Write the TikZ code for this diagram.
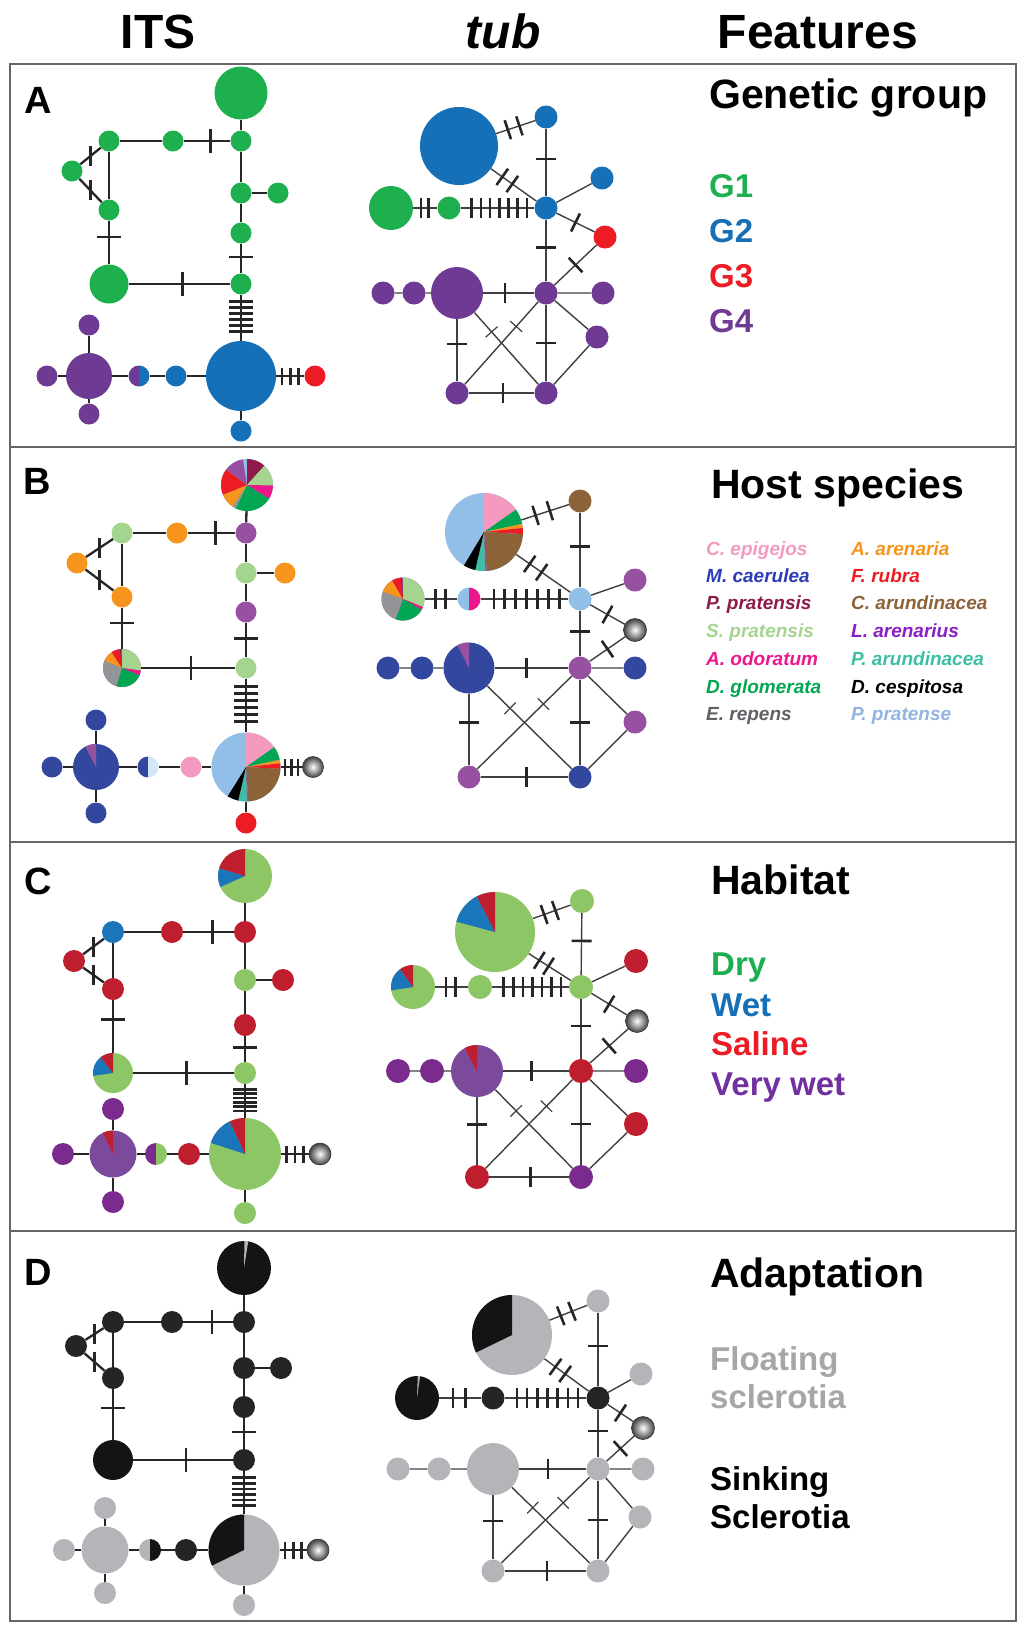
\documentclass[tikz,border=0pt]{standalone}
\usepackage{fontspec}
\setmainfont{Liberation Sans}
\usetikzlibrary{decorations.markings}

\definecolor{gGrn}{HTML}{1EB04F}
\definecolor{gBlu}{HTML}{1570B8}
\definecolor{gRed}{HTML}{ED1C24}
\definecolor{gPur}{HTML}{6E3A93}
\definecolor{hCep}{HTML}{F49AC1}
\definecolor{hMca}{HTML}{34479F}
\definecolor{hMcaT}{HTML}{2E3BB8}
\definecolor{hPpr}{HTML}{8E1B4A}
\definecolor{hSpr}{HTML}{A5D48F}
\definecolor{hAod}{HTML}{EC178C}
\definecolor{hDgl}{HTML}{00A651}
\definecolor{hErp}{HTML}{939598}
\definecolor{hErpT}{HTML}{606266}
\definecolor{hAar}{HTML}{F7941D}
\definecolor{hFru}{HTML}{ED1C24}
\definecolor{hCar}{HTML}{8C6239}
\definecolor{hLar}{HTML}{9652A1}
\definecolor{hLarT}{HTML}{8B1DC4}
\definecolor{hPar}{HTML}{3DBFA3}
\definecolor{hPpe}{HTML}{92BFE7}
\definecolor{hPpeT}{HTML}{92B4E0}
\definecolor{hPal}{HTML}{D2E8F8}
\definecolor{cGrn}{HTML}{8CC665}
\definecolor{cBlu}{HTML}{1B75BB}
\definecolor{cRed}{HTML}{BE1E2D}
\definecolor{cPur}{HTML}{7B2A8D}
\definecolor{cPie}{HTML}{7C4A9B}
\definecolor{cDryT}{HTML}{1BAF4F}
\definecolor{cVwT}{HTML}{7030A0}
\definecolor{dBlk}{HTML}{141414}
\definecolor{dDrk}{HTML}{252527}
\definecolor{dGry}{HTML}{B4B5B8}
\definecolor{dFlT}{HTML}{A6A6A6}

\tikzset{
  hap/.style={circle, inner sep=0pt, minimum size=#1},
  hap/.default=21pt,
  gball/.style={circle, inner sep=0pt, minimum size=#1, inner color=white, outer color=black!75, draw=black!80, line width=0.6pt},
  gball/.default=21pt,
  tick len/.store in=\tklen,
  tick len=11pt,
  its/.style={line width=2.3pt, draw=black!85, tick len=12pt},
  tub/.style={line width=1.4pt, draw=black!75, tick len=10pt},
  mut/.style={postaction={decorate, decoration={markings, mark=at position #1 with {\fill[black!85] (-1.3pt,-\tklen) rectangle (1.3pt,\tklen);}}}},
  mutv/.style={postaction={decorate, decoration={markings, mark=at position #1 with {\pgftransformresetnontranslations\fill[black!85] (-1.3pt,-10pt) rectangle (1.3pt,10pt);}}}},
  mutt/.style={postaction={decorate, decoration={markings, mark=at position #1 with {\fill[black!75] (-0.6pt,-8pt) rectangle (0.6pt,8pt);}}}},
  panel/.style={draw=black!60, line width=1.8pt},
  colhead/.style={anchor=base, inner sep=0pt, font=\fontsize{48}{52}\selectfont\bfseries},
  plab/.style={anchor=base west, inner sep=0pt, font=\fontsize{38}{42}\selectfont\bfseries},
  ftitle/.style={anchor=base west, inner sep=0pt, font=\fontsize{41}{45}\selectfont\bfseries},
  fitem/.style={anchor=base west, inner sep=0pt, font=\fontsize{33}{37}\selectfont\bfseries},
  host/.style={anchor=base west, inner sep=0pt, font=\fontsize{19}{22}\selectfont\bfseries\itshape}
}

\newcommand{\slice}[5]{\fill[#5] (#1.center) -- ++(90-#3:#2pt) arc[start angle=90-#3, end angle=90-#4, radius=#2pt] -- cycle;}

\newcommand{\itsedges}[1]{%
  \draw[its] (#11) -- (#12);
  \draw[its, mut=0.58] (#13) -- (#12);
  \draw[its] (#14) -- (#13);
  \draw[its, mutv=0.5] (#14) -- (#15);
  \draw[its, mutv=0.5] (#15) -- (#16);
  \draw[its] (#14) -- (#16);
  \draw[its, mut=0.37] (#16) -- (#17);
  \draw[its, mut=0.53] (#17) -- (#111);
  \draw[its] (#12) -- (#18) (#18) -- (#110) (#18) -- (#19);
  \draw[its, mut=0.45] (#110) -- (#111);
  \draw[its, mut/.list={0.15,0.28,0.41,0.54,0.67,0.8}] (#111) -- (#112);
  \draw[its, tick len=8.5pt, mut/.list={0.2,0.5,0.8}] (#112) -- (#113);
  \draw[its] (#112) -- (#114) (#112) -- (#115) (#115) -- (#116) (#116) -- (#117)
    (#117) -- (#118) (#117) -- (#119) (#117) -- (#120);
}

\newcommand{\tubedges}[1]{%
  \draw[tub, mut/.list={0.3,0.6}] (#11) -- (#12);
  \draw[tub, mut/.list={0.25,0.47}] (#11) -- (#13);
  \draw[tub, mut=0.45] (#12) -- (#13);
  \draw[tub] (#13) -- (#14);
  \draw[tub, mut=0.5] (#13) -- (#15);
  \draw[tub, mut/.list={0.33,0.63}] (#17) -- (#16);
  \draw[tub, mut/.list={0.15,0.275,0.4,0.525,0.65,0.775,0.9}] (#16) -- (#13);
  \draw[tub, mut=0.45] (#13) -- (#18);
  \draw[tub, mut=0.5] (#15) -- (#18);
  \draw[tub, mut=0.43] (#19) -- (#18);
  \draw[tub] (#111) -- (#110) (#110) -- (#19) (#18) -- (#112) (#18) -- (#113) (#113) -- (#115);
  \draw[tub, mut=0.4] (#19) -- (#114);
  \draw[tub, mut=0.52] (#114) -- (#115);
  \draw[tub, mut=0.5] (#18) -- (#115);
  \draw[tub, mutt=0.27] (#19) -- (#115);
  \draw[tub, mutt=0.3] (#18) -- (#114);
}

\begin{document}
\begin{tikzpicture}[x=1pt, y=-1pt]
  \useasboundingbox (0,0) rectangle (1024,1634);
  \fill[white] (0,0) rectangle (1024,1634);

  \node[colhead] (ITS) at (158,48) {ITS};
  \node[colhead, font=\fontsize{48}{52}\selectfont\bfseries\itshape] (TUB) at (503,48) {tub};
  \node[colhead] (FEAT) at (818,48) {Features};

  \draw[panel] (10,64) rectangle (1016,1621);
  \draw[panel] (10,447) -- (1016,447);
  \draw[panel] (10,842) -- (1016,842);
  \draw[panel] (10,1231) -- (1016,1231);

  % A: genetic group
  \node[plab] (LA) at (24,113) {A};
  \node[hap=53pt, fill=gGrn] (IA1) at (241,93) {};
  \node[hap, fill=gGrn] (IA2) at (241,141) {};
  \node[hap, fill=gGrn] (IA3) at (173,141) {};
  \node[hap, fill=gGrn] (IA4) at (109,141) {};
  \node[hap, fill=gGrn] (IA5) at (72,171) {};
  \node[hap, fill=gGrn] (IA6) at (109,210) {};
  \node[hap=39pt, fill=gGrn] (IA7) at (109,284) {};
  \node[hap, fill=gGrn] (IA8) at (241,193) {};
  \node[hap, fill=gGrn] (IA9) at (278,193) {};
  \node[hap, fill=gGrn] (IA10) at (241,233) {};
  \node[hap, fill=gGrn] (IA11) at (241,284) {};
  \node[hap=70pt, fill=gBlu] (IA12) at (241,376) {};
  \node[hap, fill=gRed] (IA13) at (315,376) {};
  \node[hap, fill=gBlu] (IA14) at (241,431) {};
  \node[hap, fill=gBlu] (IA15) at (176,376) {};
  \node[hap] (IA16) at (139,376) {};
  \slice{IA16}{10.5}{180}{360}{gPur}
  \slice{IA16}{10.5}{0}{180}{gBlu}
  \node[hap=46pt, fill=gPur] (IA17) at (89,376) {};
  \node[hap, fill=gPur] (IA18) at (89,325) {};
  \node[hap, fill=gPur] (IA19) at (89,414) {};
  \node[hap, fill=gPur] (IA20) at (47,376) {};
  \itsedges{IA}

  \node[hap=78pt, fill=gBlu] (TA1) at (459,146) {};
  \node[hap=23pt, fill=gBlu] (TA2) at (546,117) {};
  \node[hap=23pt, fill=gBlu] (TA3) at (546,208) {};
  \node[hap=23pt, fill=gBlu] (TA4) at (602,178) {};
  \node[hap=23pt, fill=gRed] (TA5) at (605,237) {};
  \node[hap=23pt, fill=gGrn] (TA6) at (449,208) {};
  \node[hap=44pt, fill=gGrn] (TA7) at (391,208) {};
  \node[hap=23pt, fill=gPur] (TA8) at (546,293) {};
  \node[hap=52pt, fill=gPur] (TA9) at (457,293) {};
  \node[hap=23pt, fill=gPur] (TA10) at (414,293) {};
  \node[hap=23pt, fill=gPur] (TA11) at (383,293) {};
  \node[hap=23pt, fill=gPur] (TA12) at (603,293) {};
  \node[hap=23pt, fill=gPur] (TA13) at (597,337) {};
  \node[hap=23pt, fill=gPur] (TA14) at (457,393) {};
  \node[hap=23pt, fill=gPur] (TA15) at (546,393) {};
  \tubedges{TA}

  \node[ftitle] (GEN) at (709,108) {Genetic group};
  \node[fitem, text=gGrn] (G1) at (709,197) {G1};
  \node[fitem, text=gBlu] (G2) at (709,242) {G2};
  \node[fitem, text=gRed] (G3) at (709,287) {G3};
  \node[fitem, text=gPur] (G4) at (709,332) {G4};

  % B: host species
  \node[plab] (LB) at (23,494) {B};
  \node[hap=52pt, fill=hPpe] (IB1) at (247,485) {};
  \slice{IB1}{26}{0}{42}{hPpr}
  \slice{IB1}{26}{42}{91}{hSpr}
  \slice{IB1}{26}{91}{122}{hAod}
  \slice{IB1}{26}{122}{206}{hDgl}
  \slice{IB1}{26}{206}{214}{hErp}
  \slice{IB1}{26}{214}{248}{hAar}
  \slice{IB1}{26}{248}{307}{hFru}
  \slice{IB1}{26}{307}{351}{hLar}
  \node[hap, fill=hLar] (IB2) at (246,533) {};
  \node[hap, fill=hAar] (IB3) at (177,533) {};
  \node[hap, fill=hSpr] (IB4) at (122,533) {};
  \node[hap, fill=hAar] (IB5) at (77,563) {};
  \node[hap, fill=hAar] (IB6) at (122,597) {};
  \node[hap=38pt, fill=hLar] (IB7) at (122,668) {};
  \slice{IB7}{19}{0}{98}{hSpr}
  \slice{IB7}{19}{98}{113}{hAod}
  \slice{IB7}{19}{113}{197}{hDgl}
  \slice{IB7}{19}{197}{293}{hErp}
  \slice{IB7}{19}{293}{327}{hAar}
  \slice{IB7}{19}{327}{354}{hFru}
  \slice{IB7}{19}{354}{357}{hPpr}
  \node[hap, fill=hSpr] (IB8) at (246,573) {};
  \node[hap, fill=hAar] (IB9) at (285,573) {};
  \node[hap, fill=hLar] (IB10) at (246,612) {};
  \node[hap, fill=hSpr] (IB11) at (246,668) {};
  \node[hap=69pt, fill=hPpe] (IB12) at (246,767) {};
  \slice{IB12}{34.5}{0}{55}{hCep}
  \slice{IB12}{34.5}{55}{78}{hDgl}
  \slice{IB12}{34.5}{78}{84}{hAar}
  \slice{IB12}{34.5}{84}{93}{hFru}
  \slice{IB12}{34.5}{93}{176}{hCar}
  \slice{IB12}{34.5}{176}{179}{hLar}
  \slice{IB12}{34.5}{179}{193}{hPar}
  \slice{IB12}{34.5}{193}{212}{black}
  \node[gball] (IB13) at (313,767) {};
  \node[hap, fill=hFru] (IB14) at (246,823) {};
  \node[hap, fill=hCep] (IB15) at (191,767) {};
  \node[hap] (IB16) at (148,767) {};
  \slice{IB16}{10.5}{180}{360}{hMca}
  \slice{IB16}{10.5}{0}{180}{hPal}
  \node[hap=46pt, fill=hMca] (IB17) at (96,767) {};
  \slice{IB17}{23}{332}{360}{hLar}
  \node[hap, fill=hMca] (IB18) at (96,720) {};
  \node[hap, fill=hMca] (IB19) at (96,813) {};
  \node[hap, fill=hMca] (IB20) at (52,767) {};
  \itsedges{IB}

  \node[hap=78pt, fill=hPpe] (TB1) at (484,532) {};
  \slice{TB1}{39}{0}{55}{hCep}
  \slice{TB1}{39}{55}{78}{hDgl}
  \slice{TB1}{39}{78}{84}{hAar}
  \slice{TB1}{39}{84}{93}{hFru}
  \slice{TB1}{39}{93}{176}{hCar}
  \slice{TB1}{39}{176}{179}{hLar}
  \slice{TB1}{39}{179}{193}{hPar}
  \slice{TB1}{39}{193}{211}{black}
  \node[hap=23pt, fill=hCar] (TB2) at (580,501) {};
  \node[hap=23pt, fill=hPpe] (TB3) at (580,599) {};
  \node[hap=23pt, fill=hLar] (TB4) at (635,580) {};
  \node[gball=23pt] (TB5) at (635,630) {};
  \node[hap=23pt] (TB6) at (469,599) {};
  \slice{TB6}{11.5}{180}{360}{hPpe}
  \slice{TB6}{11.5}{0}{180}{hAod}
  \node[hap=43pt, fill=hLar] (TB7) at (403,599) {};
  \slice{TB7}{21.5}{0}{112}{hSpr}
  \slice{TB7}{21.5}{112}{120}{hAod}
  \slice{TB7}{21.5}{120}{200}{hDgl}
  \slice{TB7}{21.5}{200}{290}{hErp}
  \slice{TB7}{21.5}{290}{330}{hAar}
  \slice{TB7}{21.5}{330}{354}{hFru}
  \slice{TB7}{21.5}{354}{357}{hPpr}
  \node[hap=23pt, fill=hLar] (TB8) at (580,668) {};
  \node[hap=51pt, fill=hMca] (TB9) at (469,668) {};
  \slice{TB9}{25.5}{333}{360}{hLar}
  \node[hap=23pt, fill=hMca] (TB10) at (422,668) {};
  \node[hap=23pt, fill=hMca] (TB11) at (388,668) {};
  \node[hap=23pt, fill=hMca] (TB12) at (635,668) {};
  \node[hap=23pt, fill=hLar] (TB13) at (635,722) {};
  \node[hap=23pt, fill=hLar] (TB14) at (469,777) {};
  \node[hap=23pt, fill=hMca] (TB15) at (580,777) {};
  \tubedges{TB}

  \node[ftitle] (HOST) at (711,498) {Host species};
  \node[host, text=hCep] (CEP) at (706,555) {C. epigejos};
  \node[host, text=hMcaT] (MCA) at (706,582) {M. caerulea};
  \node[host, text=hPpr] (PPR) at (706,609) {P. pratensis};
  \node[host, text=hSpr] (SPR) at (706,637) {S. pratensis};
  \node[host, text=hAod] (AOD) at (706,665) {A. odoratum};
  \node[host, text=hDgl] (DGL) at (706,693) {D. glomerata};
  \node[host, text=hErpT] (ERP) at (706,720) {E. repens};
  \node[host, text=hAar] (AAR) at (851,555) {A. arenaria};
  \node[host, text=hFru] (FRU) at (851,582) {F. rubra};
  \node[host, text=hCar] (CAR) at (851,609) {C. arundinacea};
  \node[host, text=hLarT] (LAR) at (851,637) {L. arenarius};
  \node[host, text=hPar] (PAR) at (851,665) {P. arundinacea};
  \node[host, text=black] (DCE) at (851,693) {D. cespitosa};
  \node[host, text=hPpeT] (PPE) at (851,720) {P. pratense};

  % C: habitat
  \node[plab] (LC) at (24,894) {C};
  \node[hap=54pt, fill=cGrn] (IC1) at (245,876) {};
  \slice{IC1}{27}{246}{287}{cBlu}
  \slice{IC1}{27}{287}{360}{cRed}
  \node[hap=22pt, fill=cRed] (IC2) at (245,932) {};
  \node[hap=22pt, fill=cRed] (IC3) at (172,932) {};
  \node[hap=22pt, fill=cBlu] (IC4) at (113,932) {};
  \node[hap=22pt, fill=cRed] (IC5) at (74,961) {};
  \node[hap=22pt, fill=cRed] (IC6) at (113,989) {};
  \node[hap=40pt, fill=cGrn] (IC7) at (113,1073) {};
  \slice{IC7}{20}{262}{322}{cBlu}
  \slice{IC7}{20}{322}{360}{cRed}
  \node[hap=22pt, fill=cGrn] (IC8) at (245,980) {};
  \node[hap=22pt, fill=cRed] (IC9) at (283,980) {};
  \node[hap=22pt, fill=cRed] (IC10) at (245,1025) {};
  \node[hap=22pt, fill=cGrn] (IC11) at (245,1073) {};
  \node[hap=72pt, fill=cGrn] (IC12) at (245,1154) {};
  \slice{IC12}{36}{288}{335}{cBlu}
  \slice{IC12}{36}{335}{360}{cRed}
  \node[gball=22pt] (IC13) at (320,1154) {};
  \node[hap=22pt, fill=cGrn] (IC14) at (245,1213) {};
  \node[hap=22pt, fill=cRed] (IC15) at (189,1154) {};
  \node[hap=22pt] (IC16) at (156,1154) {};
  \slice{IC16}{11}{180}{360}{cPur}
  \slice{IC16}{11}{0}{180}{cGrn}
  \node[hap=47pt, fill=cPie] (IC17) at (113,1154) {};
  \slice{IC17}{23.5}{335}{360}{cRed}
  \node[hap=22pt, fill=cPur] (IC18) at (113,1109) {};
  \node[hap=22pt, fill=cPur] (IC19) at (113,1202) {};
  \node[hap=22pt, fill=cPur] (IC20) at (63,1154) {};
  \itsedges{IC}

  \node[hap=80pt, fill=cGrn] (TC1) at (495,932) {};
  \slice{TC1}{40}{285}{333}{cBlu}
  \slice{TC1}{40}{333}{360}{cRed}
  \node[hap=24pt, fill=cGrn] (TC2) at (582,901) {};
  \node[hap=24pt, fill=cGrn] (TC3) at (581,987) {};
  \node[hap=24pt, fill=cRed] (TC4) at (636,961) {};
  \node[gball=23pt] (TC5) at (637,1021) {};
  \node[hap=24pt, fill=cGrn] (TC6) at (480,987) {};
  \node[hap=44pt, fill=cGrn] (TC7) at (413,987) {};
  \slice{TC7}{22}{261}{324}{cBlu}
  \slice{TC7}{22}{324}{360}{cRed}
  \node[hap=24pt, fill=cRed] (TC8) at (581,1071) {};
  \node[hap=52pt, fill=cPie] (TC9) at (477,1071) {};
  \slice{TC9}{26}{332}{360}{cRed}
  \node[hap=24pt, fill=cPur] (TC10) at (432,1071) {};
  \node[hap=24pt, fill=cPur] (TC11) at (398,1071) {};
  \node[hap=24pt, fill=cPur] (TC12) at (636,1071) {};
  \node[hap=24pt, fill=cRed] (TC13) at (636,1124) {};
  \node[hap=24pt, fill=cRed] (TC14) at (477,1177) {};
  \node[hap=24pt, fill=cPur] (TC15) at (581,1177) {};
  \tubedges{TC}

  \node[ftitle] (HAB) at (711,894) {Habitat};
  \node[fitem, text=cDryT] (DRY) at (711,975) {Dry};
  \node[fitem, text=gBlu] (WET) at (711,1016) {Wet};
  \node[fitem, text=gRed] (SAL) at (711,1055) {Saline};
  \node[fitem, text=cVwT] (VWET) at (711,1095) {Very wet};

  % D: adaptation
  \node[plab] (LD) at (24,1285) {D};
  \node[hap=54pt, fill=dBlk] (ID1) at (244,1268) {};
  \slice{ID1}{27}{1}{9}{dGry}
  \node[hap=22pt, fill=dDrk] (ID2) at (244,1322) {};
  \node[hap=22pt, fill=dDrk] (ID3) at (172,1322) {};
  \node[hap=22pt, fill=dDrk] (ID4) at (113,1322) {};
  \node[hap=22pt, fill=dDrk] (ID5) at (76,1346) {};
  \node[hap=22pt, fill=dDrk] (ID6) at (113,1378) {};
  \node[hap=40pt, fill=dBlk] (ID7) at (113,1460) {};
  \node[hap=22pt, fill=dDrk] (ID8) at (244,1368) {};
  \node[hap=22pt, fill=dDrk] (ID9) at (281,1368) {};
  \node[hap=22pt, fill=dDrk] (ID10) at (244,1407) {};
  \node[hap=22pt, fill=dDrk] (ID11) at (244,1460) {};
  \node[hap=71pt, fill=dGry] (ID12) at (244,1550) {};
  \slice{ID12}{35.5}{244}{360}{dBlk}
  \node[gball=22pt] (ID13) at (318,1550) {};
  \node[hap=22pt, fill=dGry] (ID14) at (244,1605) {};
  \node[hap=22pt, fill=dDrk] (ID15) at (186,1550) {};
  \node[hap=22pt] (ID16) at (150,1550) {};
  \slice{ID16}{11}{180}{360}{dGry}
  \slice{ID16}{11}{0}{180}{dBlk}
  \node[hap=47pt, fill=dGry] (ID17) at (105,1550) {};
  \node[hap=22pt, fill=dGry] (ID18) at (105,1508) {};
  \node[hap=22pt, fill=dGry] (ID19) at (105,1593) {};
  \node[hap=22pt, fill=dGry] (ID20) at (64,1550) {};
  \itsedges{ID}

  \node[hap=80pt, fill=dGry] (TD1) at (512,1335) {};
  \slice{TD1}{40}{244}{360}{dBlk}
  \node[hap=23pt, fill=dGry] (TD2) at (598,1301) {};
  \node[hap=23pt, fill=dDrk] (TD3) at (598,1398) {};
  \node[hap=23pt, fill=dGry] (TD4) at (641,1374) {};
  \node[gball=23pt] (TD5) at (643,1428) {};
  \node[hap=23pt, fill=dDrk] (TD6) at (493,1398) {};
  \node[hap=44pt, fill=dBlk] (TD7) at (417,1398) {};
  \slice{TD7}{22}{2}{8}{dGry}
  \node[hap=23pt, fill=dGry] (TD8) at (598,1469) {};
  \node[hap=52pt, fill=dGry] (TD9) at (493,1469) {};
  \node[hap=23pt, fill=dGry] (TD10) at (439,1469) {};
  \node[hap=23pt, fill=dGry] (TD11) at (398,1469) {};
  \node[hap=23pt, fill=dGry] (TD12) at (643,1469) {};
  \node[hap=23pt, fill=dGry] (TD13) at (640,1517) {};
  \node[hap=23pt, fill=dGry] (TD14) at (493,1571) {};
  \node[hap=23pt, fill=dGry] (TD15) at (598,1571) {};
  \tubedges{TD}

  \node[ftitle] (ADA) at (710,1287) {Adaptation};
  \node[fitem, text=dFlT] (FLO) at (710,1370) {Floating};
  \node[fitem, text=dFlT] (FLO2) at (710,1408) {sclerotia};
  \node[fitem, text=black] (SIN) at (710,1490) {Sinking};
  \node[fitem, text=black] (SIN2) at (710,1528) {Sclerotia};
\end{tikzpicture}
\end{document}
